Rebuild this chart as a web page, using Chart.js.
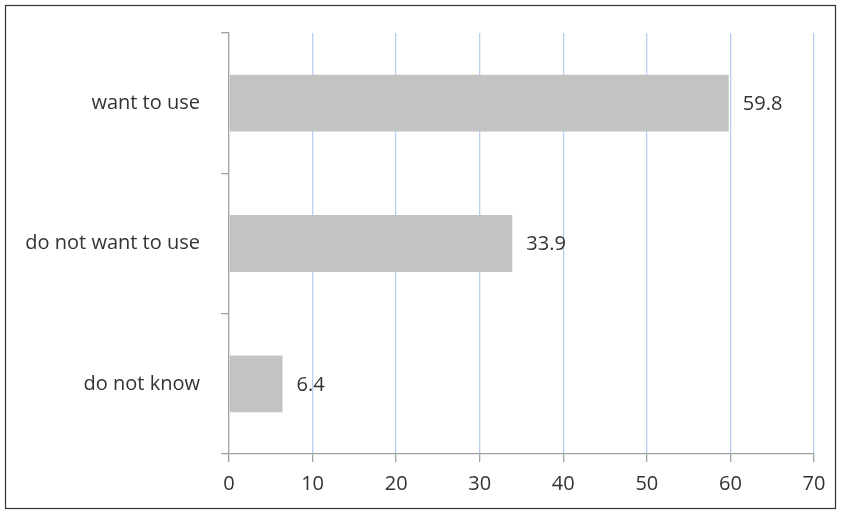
<html><head><meta charset="UTF-8">
<title>Survey chart</title>
<style>
* { margin: 0; padding: 0; }
body { background: #fff; width: 841px; height: 511px; overflow: hidden; }
#wrap { position: relative; width: 841px; height: 511px; }
</style>
<script src="https://cdn.jsdelivr.net/npm/chart.js"></script>
</head>
<body>
<div id="wrap"><canvas id="chart" width="841" height="511"></canvas></div>
<script>
const categories = ['want to use', 'do not want to use', 'do not know'];
const values = [59.8, 33.9, 6.4];
const xTicks = [0, 10, 20, 30, 40, 50, 60, 70];

const FONT = "'Open Sans', sans-serif";
const SIZE = 20;
const TEXT = '#333333';

// frame around the whole picture + value labels next to bars
const extras = {
  id: 'extras',
  afterDraw(chart) {
    const ctx = chart.ctx;
    ctx.save();
    ctx.strokeStyle = '#333';
    ctx.lineWidth = 1.2;
    ctx.strokeRect(5.5, 5.5, 830, 503);
    ctx.font = SIZE + 'px ' + FONT;
    ctx.fillStyle = TEXT;
    ctx.textAlign = 'left';
    ctx.textBaseline = 'middle';
    chart.getDatasetMeta(0).data.forEach((bar, i) => {
      ctx.fillText(String(values[i]), bar.x + 14, bar.y + 1);
    });
    ctx.restore();
  }
};

new Chart(document.getElementById('chart'), {
  type: 'bar',
  data: {
    labels: categories,
    datasets: [{
      data: values,
      backgroundColor: '#c3c3c3',
      borderWidth: 0,
      categoryPercentage: 1,
      barPercentage: 0.405
    }]
  },
  options: {
    indexAxis: 'y',
    responsive: false,
    animation: false,
    layout: { padding: { top: 32, right: 27, bottom: 0, left: 0 } },
    plugins: { legend: { display: false }, tooltip: { enabled: false } },
    scales: {
      x: {
        min: 0, max: 70,
        afterBuildTicks(scale) { scale.ticks = xTicks.map(v => ({ value: v })); },
        afterFit(scale) { scale.height = 57; },
        grid: {
          color: ctx => ctx.index === 0 ? 'rgba(0,0,0,0)' : '#b7cff0',
          lineWidth: 1.3,
          tickColor: '#a0a0a0',
          tickLength: 8
        },
        border: { color: '#a0a0a0', width: 1.3 },
        ticks: { color: TEXT, font: { family: FONT, size: SIZE }, padding: 10 }
      },
      y: {
        afterFit(scale) { scale.width = 229; },
        grid: {
          offset: true,
          drawOnChartArea: false,
          tickColor: '#a0a0a0',
          tickLength: 8,
          lineWidth: 1.3
        },
        border: { color: '#a0a0a0', width: 1.3 },
        ticks: { color: TEXT, font: { family: FONT, size: SIZE }, padding: 21 }
      }
    }
  },
  plugins: [extras]
});
</script>
</body></html>
